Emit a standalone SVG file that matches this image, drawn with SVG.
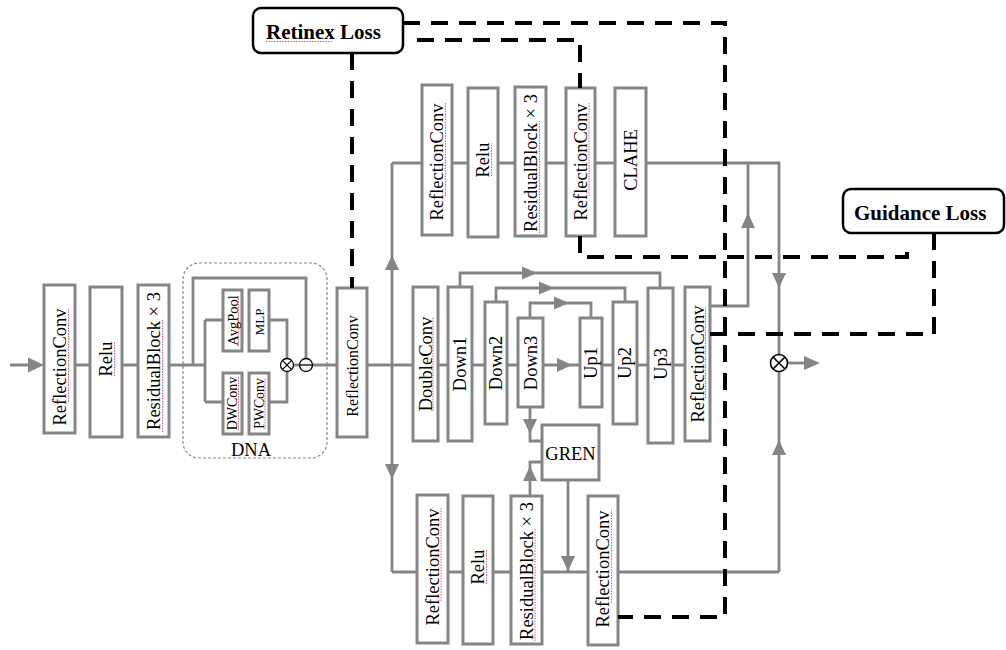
<svg xmlns="http://www.w3.org/2000/svg" width="1006" height="650" viewBox="0 0 1006 650">
<style>
.box{fill:#fff;stroke:#858585;stroke-width:3}
.ln{fill:none;stroke:#858585;stroke-width:2.8}
.ah{fill:#858585}
.loss{fill:none;stroke:#000;stroke-width:4;stroke-dasharray:17 11}
.lb{fill:#fff;stroke:#000;stroke-width:2.5}
.t{font-family:"Liberation Serif","Times New Roman",serif;fill:#000;font-size:18.5px}
.b{font-weight:bold;font-size:21px}
.op{fill:#fff;stroke:#000;stroke-width:1.3}
.sq{stroke:#e05a5a;stroke-width:1;stroke-dasharray:1.5 1.2;fill:none}
.dna{fill:none;stroke:#888;stroke-width:1.2;stroke-dasharray:3 2}
</style>
<rect width="1006" height="650" fill="#fff"/>

<g id="connectors">
  <path class="ln" d="M10,365 H30 M75,365 H90 M122,365 H138 M169,365 H205"/>
  <polygon class="ah" points="28,357.5 44,365 28,372.5"/>
  <path class="ln" d="M193,365 V278 H306 V358.5 M205,320 V402 M205,320 H223 M205,402 H223 M269,320 H287 V358.5 M269,402 H287 V371.5 M293.5,365 H299.5 M312.5,365 H337"/>
  <path class="ln" d="M367,365 H413 M392,163 V572 M392,163 H422 M452,163 H468 M498,163 H515 M546,163 H566 M595,163 H615 M646,163 H779 V354.5 M779,371.5 V572"/>
  <polygon class="ah" points="385,270 392,255 399,270"/>
  <polygon class="ah" points="385,464 392,479 399,464"/>
  <polygon class="ah" points="772,273 779,288 786,273"/>
  <polygon class="ah" points="772,455 779,440 786,455"/>
  <path class="ln" d="M787.5,363 H806"/>
  <polygon class="ah" points="804,356 820,363 804,370"/>
  <path class="ln" d="M392,572 H417 M448,572 H463 M493,572 H511 M542,572 H588 M618,572 H779"/>
  <path class="ln" d="M438,365 H448 M472,365 H485 M507,365 H518 M543,365 H580 M602,365 H613 M637,365 H648 M673,365 H685"/>
  <polygon class="ah" points="557,358 572,365 557,372"/>
  <path class="ln" d="M460,287 V273 H660 V288 M496,302 V288 H625 V302 M530,318 V303 H591 V318"/>
  <polygon class="ah" points="522,266.5 537,273 522,279.5"/>
  <polygon class="ah" points="539,281.5 554,288 539,294.5"/>
  <polygon class="ah" points="554,296.5 569,303 554,309.5"/>
  <path class="ln" d="M530,407 V441 H542 M530,496 V462 H542 M568,480 V572"/>
  <polygon class="ah" points="523,419 530,434 537,419"/>
  <polygon class="ah" points="523,481 530,466 537,481"/>
  <polygon class="ah" points="561,556 568,571 575,556"/>
  <path class="ln" d="M710,306 H748 V163"/>
  <polygon class="ah" points="741,228 748,213 755,228"/>
</g>

<g id="n_rc1"><rect class="box" x="44" y="285" width="31" height="148"/>
  <text class="t" transform="translate(60,367) rotate(-90)" text-anchor="middle" dy="0.35em">ReflectionConv</text>
  <line class="sq" x1="68.5" y1="402" x2="68.5" y2="309"/></g>
<g id="n_relu1"><rect class="box" x="90" y="287" width="32" height="150"/>
  <text class="t" transform="translate(106,359) rotate(-90)" text-anchor="middle" dy="0.35em">Relu</text>
  <line class="sq" x1="114.5" y1="376" x2="114.5" y2="342"/></g>
<g id="n_rb1"><rect class="box" x="138" y="285" width="31" height="152"/>
  <text class="t" transform="translate(154,361) rotate(-90)" text-anchor="middle" dy="0.35em">ResidualBlock × 3</text>
  <line class="sq" x1="162.5" y1="432" x2="162.5" y2="320"/></g>

<g id="n_dna">
  <rect class="dna" x="183" y="263" width="144" height="195" rx="16"/>
  <rect class="box" x="223" y="290" width="19" height="61"/>
  <text class="t" transform="translate(232.5,320.5) rotate(-90)" text-anchor="middle" dy="0.35em" style="font-size:14.5px">AvgPool</text>
  <line class="sq" x1="238.5" y1="346" x2="238.5" y2="296"/>
  <rect class="box" x="249" y="290" width="20" height="61"/>
  <text class="t" transform="translate(259,322) rotate(-90)" text-anchor="middle" dy="0.35em" style="font-size:13px">MLP</text>
  <rect class="box" x="223" y="373" width="19" height="61"/>
  <text class="t" transform="translate(232.5,403.5) rotate(-90)" text-anchor="middle" dy="0.35em" style="font-size:14px">DWConv</text>
  <line class="sq" x1="238.5" y1="430" x2="238.5" y2="377"/>
  <rect class="box" x="249" y="373" width="20" height="61"/>
  <text class="t" transform="translate(259,403.5) rotate(-90)" text-anchor="middle" dy="0.35em" style="font-size:13.8px">PWConv</text>
  <line class="sq" x1="265" y1="429" x2="265" y2="378"/>
  <circle class="op" cx="287" cy="365" r="6.5"/>
  <path d="M282.4,360.4 L291.6,369.6 M291.6,360.4 L282.4,369.6" stroke="#000" stroke-width="1.3"/>
  <circle class="op" cx="306" cy="365" r="6.5"/>
  <path d="M299.5,365 H312.5" stroke="#000" stroke-width="1.3"/>
  <text class="t" x="251" y="456" text-anchor="middle">DNA</text>
</g>

<g id="n_rc2"><rect class="box" x="337" y="288" width="30" height="149"/>
  <text class="t" transform="translate(352,366) rotate(-90)" text-anchor="middle" dy="0.35em" style="font-size:16px">ReflectionConv</text></g>

<g id="n_rc_top"><rect class="box" x="422" y="85" width="30" height="150"/>
  <text class="t" transform="translate(437,162) rotate(-90)" text-anchor="middle" dy="0.35em">ReflectionConv</text>
  <line class="sq" x1="445.5" y1="196" x2="445.5" y2="103"/></g>
<g id="n_relu_top"><rect class="box" x="468" y="88" width="30" height="149"/>
  <text class="t" transform="translate(483,160) rotate(-90)" text-anchor="middle" dy="0.35em">Relu</text>
  <line class="sq" x1="491.5" y1="176" x2="491.5" y2="143"/></g>
<g id="n_rb_top"><rect class="box" x="515" y="87" width="31" height="149"/>
  <text class="t" transform="translate(531,163) rotate(-90)" text-anchor="middle" dy="0.35em">ResidualBlock × 3</text>
  <line class="sq" x1="539.5" y1="233" x2="539.5" y2="121"/></g>
<g id="n_rc_top2"><rect class="box" x="566" y="88" width="29" height="148"/>
  <text class="t" transform="translate(580.5,162) rotate(-90)" text-anchor="middle" dy="0.35em">ReflectionConv</text>
  <line class="sq" x1="589" y1="196" x2="589" y2="103"/></g>
<g id="n_clahe"><rect class="box" x="615" y="88" width="31" height="148"/>
  <text class="t" transform="translate(630.5,160) rotate(-90)" text-anchor="middle" dy="0.35em">CLAHE</text></g>

<g id="n_doubleconv"><rect class="box" x="413" y="287" width="25" height="154"/>
  <text class="t" transform="translate(425.5,364) rotate(-90)" text-anchor="middle" dy="0.35em">DoubleConv</text>
  <line class="sq" x1="433" y1="411" x2="433" y2="317"/></g>
<g id="n_down1"><rect class="box" x="448" y="287" width="24" height="154"/>
  <text class="t" transform="translate(460,364) rotate(-90)" text-anchor="middle" dy="0.35em">Down1</text></g>
<g id="n_down2"><rect class="box" x="485" y="302" width="22" height="122"/>
  <text class="t" transform="translate(496,363) rotate(-90)" text-anchor="middle" dy="0.35em">Down2</text></g>
<g id="n_down3"><rect class="box" x="518" y="318" width="25" height="89"/>
  <text class="t" transform="translate(530.5,363) rotate(-90)" text-anchor="middle" dy="0.35em">Down3</text></g>
<g id="n_up1"><rect class="box" x="580" y="318" width="22" height="89"/>
  <text class="t" transform="translate(591,363) rotate(-90)" text-anchor="middle" dy="0.35em">Up1</text></g>
<g id="n_up2"><rect class="box" x="613" y="302" width="24" height="122"/>
  <text class="t" transform="translate(625,363) rotate(-90)" text-anchor="middle" dy="0.35em">Up2</text></g>
<g id="n_up3"><rect class="box" x="648" y="288" width="25" height="155"/>
  <text class="t" transform="translate(660.5,364) rotate(-90)" text-anchor="middle" dy="0.35em">Up3</text></g>
<g id="n_rc_unet"><rect class="box" x="685" y="287" width="25" height="154"/>
  <text class="t" transform="translate(697.5,364) rotate(-90)" text-anchor="middle" dy="0.35em">ReflectionConv</text>
  <line class="sq" x1="705.5" y1="398" x2="705.5" y2="306"/></g>

<g id="n_gren"><rect class="box" x="542" y="425" width="57" height="55"/>
  <text class="t" x="570.5" y="460" text-anchor="middle">GREN</text></g>

<g id="n_rc_bot"><rect class="box" x="417" y="495" width="31" height="148"/>
  <text class="t" transform="translate(432.5,567) rotate(-90)" text-anchor="middle" dy="0.35em">ReflectionConv</text>
  <line class="sq" x1="441" y1="601" x2="441" y2="508"/></g>
<g id="n_relu_bot"><rect class="box" x="463" y="496" width="30" height="148"/>
  <text class="t" transform="translate(478,567) rotate(-90)" text-anchor="middle" dy="0.35em">Relu</text>
  <line class="sq" x1="486.5" y1="584" x2="486.5" y2="550"/></g>
<g id="n_rb_bot"><rect class="box" x="511" y="496" width="31" height="148"/>
  <text class="t" transform="translate(526.5,571) rotate(-90)" text-anchor="middle" dy="0.35em">ResidualBlock × 3</text>
  <line class="sq" x1="535" y1="641" x2="535" y2="529"/></g>
<g id="n_rc_bot2"><rect class="box" x="588" y="496" width="30" height="149"/>
  <text class="t" transform="translate(603,569) rotate(-90)" text-anchor="middle" dy="0.35em">ReflectionConv</text>
  <line class="sq" x1="611.5" y1="603" x2="611.5" y2="510"/></g>

<g id="n_out"><circle class="op" cx="779" cy="363" r="8.5" style="stroke-width:1.6"/>
  <path d="M773,357 L785,369 M785,357 L773,369" stroke="#000" stroke-width="1.6"/></g>

<g id="loss_connectors">
  <path class="loss" d="M352,53 V288"/>
  <path class="loss" d="M417,40 H580 V88"/>
  <path class="loss" d="M580,236 V257 H907 V243"/>
  <path class="loss" d="M403,23 H725 V617 H618"/>
  <path class="loss" d="M934,233 V334 H710"/>
</g>

<g id="n_retinex"><rect class="lb" x="253" y="8" width="150" height="45" rx="8"/>
  <text class="t b" x="266" y="38.5">Retinex Loss</text>
  <line class="sq" x1="266" y1="41.5" x2="332" y2="41.5"/></g>
<g id="n_guidance"><rect class="lb" x="843" y="189" width="161" height="44" rx="8"/>
  <text class="t b" x="854" y="219.5">Guidance Loss</text></g>
</svg>
